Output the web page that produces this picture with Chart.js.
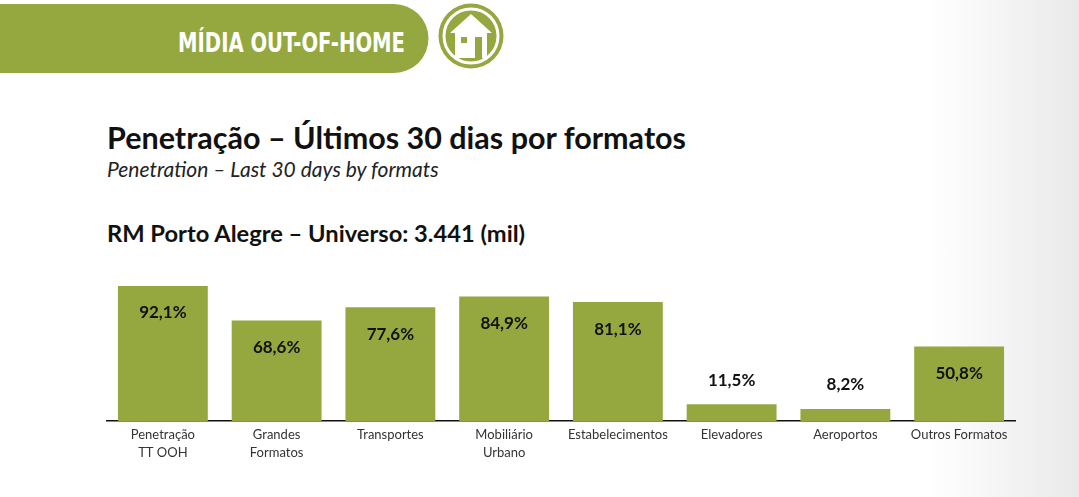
<!DOCTYPE html>
<html>
<head>
<meta charset="utf-8">
<script src="https://cdn.jsdelivr.net/npm/chart.js@4.4.0/dist/chart.umd.min.js"></script>
<style>
  html, body { margin: 0; padding: 0; }
  body {
    width: 1079px; height: 497px; overflow: hidden; position: relative;
    background: linear-gradient(to right, #ffffff 0%, #ffffff 86%, #f1f1f1 95%, #e9e9e9 100%);
    font-family: Lato, "Open Sans", sans-serif;
  }
  .txt { position: absolute; left: 107px; white-space: nowrap; color: #111; line-height: 1; }
  #title { top: 122px; font-size: 30.5px; font-weight: 700; }
  #subtitle { top: 158px; font-size: 21px; font-style: italic; color: #222; }
  #universe { top: 222px; font-size: 23.7px; font-weight: 700; }
  #header { position: absolute; left: 0; top: 0; }
  #chartBox { position: absolute; left: 106px; top: 268px; width: 910px; height: 205px; }
</style>
</head>
<body>
<svg id="header" width="520" height="80">
  <path d="M0,4 H394 A34.5,34.5 0 0 1 394,73 H0 Z" fill="#95a83f"/>
  <text x="178" y="52" fill="#ffffff" font-family="'DejaVu Sans Condensed', 'DejaVu Sans'" font-weight="bold"
        font-size="27" textLength="227" lengthAdjust="spacingAndGlyphs">MÍDIA OUT-OF-HOME</text>
  <circle cx="471" cy="36" r="32.5" fill="#95a83f"/>
  <circle cx="471" cy="36" r="27" fill="none" stroke="#ffffff" stroke-width="3"/>
  <path d="M471,14 L492,33 L487,33 L487,58 L455,58 L455,33 L450,33 Z" fill="#ffffff"/>
  <rect x="461" y="37" width="6" height="6" fill="#95a83f"/>
  <rect x="475" y="37" width="7" height="21" fill="#95a83f"/>
</svg>

<div class="txt" id="title">Penetração – Últimos 30 dias por formatos</div>
<div class="txt" id="subtitle">Penetration – Last 30 days by formats</div>
<div class="txt" id="universe">RM Porto Alegre – Universo: 3.441 (mil)</div>

<div id="chartBox"><canvas id="grafico"></canvas></div>

<script>
const categorias = [
  ['Penetração', 'TT OOH'],
  ['Grandes', 'Formatos'],
  'Transportes',
  ['Mobiliário', 'Urbano'],
  'Estabelecimentos',
  'Elevadores',
  'Aeroportos',
  'Outros Formatos'
];
const penetracao = [92.1, 68.6, 77.6, 84.9, 81.1, 11.5, 8.2, 50.8];

const verde = '#95a83f';

function formatoPct(v) {
  return v.toFixed(1).replace('.', ',') + '%';
}

// rótulos de valor: dentro da barra nas altas, acima nas baixas
const rotulos = {
  id: 'rotulos',
  afterDatasetsDraw(chart) {
    const ctx = chart.ctx;
    const meta = chart.getDatasetMeta(0);
    ctx.save();
    ctx.font = 'bold 17px Lato, "Open Sans", sans-serif';
    ctx.fillStyle = '#111111';
    ctx.textAlign = 'center';
    ctx.textBaseline = 'middle';
    meta.data.forEach((bar, i) => {
      const v = penetracao[i];
      const y = v > 30 ? bar.y + 27 : bar.y - 24;
      ctx.fillText(formatoPct(v), bar.x, y);
    });
    ctx.restore();
  }
};

const ctx = document.getElementById('grafico').getContext('2d');
new Chart(ctx, {
  type: 'bar',
  data: {
    labels: categorias,
    datasets: [{
      data: penetracao,
      backgroundColor: verde,
      borderWidth: 0,
      barPercentage: 0.79,
      categoryPercentage: 1
    }]
  },
  options: {
    responsive: true,
    maintainAspectRatio: false,
    animation: false,
    layout: { padding: { top: 6.4, left: 0, right: 0, bottom: 0 } },
    plugins: {
      legend: { display: false },
      title: { display: false },
      tooltip: { enabled: false }
    },
    scales: {
      y: {
        display: false,
        min: 0,
        max: 100
      },
      x: {
        grid: { display: false, drawTicks: false },
        border: { display: true, color: '#111111', width: 1.5 },
        ticks: {
          color: '#333333',
          font: { family: 'Lato, "Open Sans", sans-serif', size: 13, lineHeight: 1.4 },
          padding: 5,
          maxRotation: 0,
          autoSkip: false
        },
        afterFit(scale) { scale.height = 52; }
      }
    }
  },
  plugins: [rotulos]
});
</script>
</body>
</html>
